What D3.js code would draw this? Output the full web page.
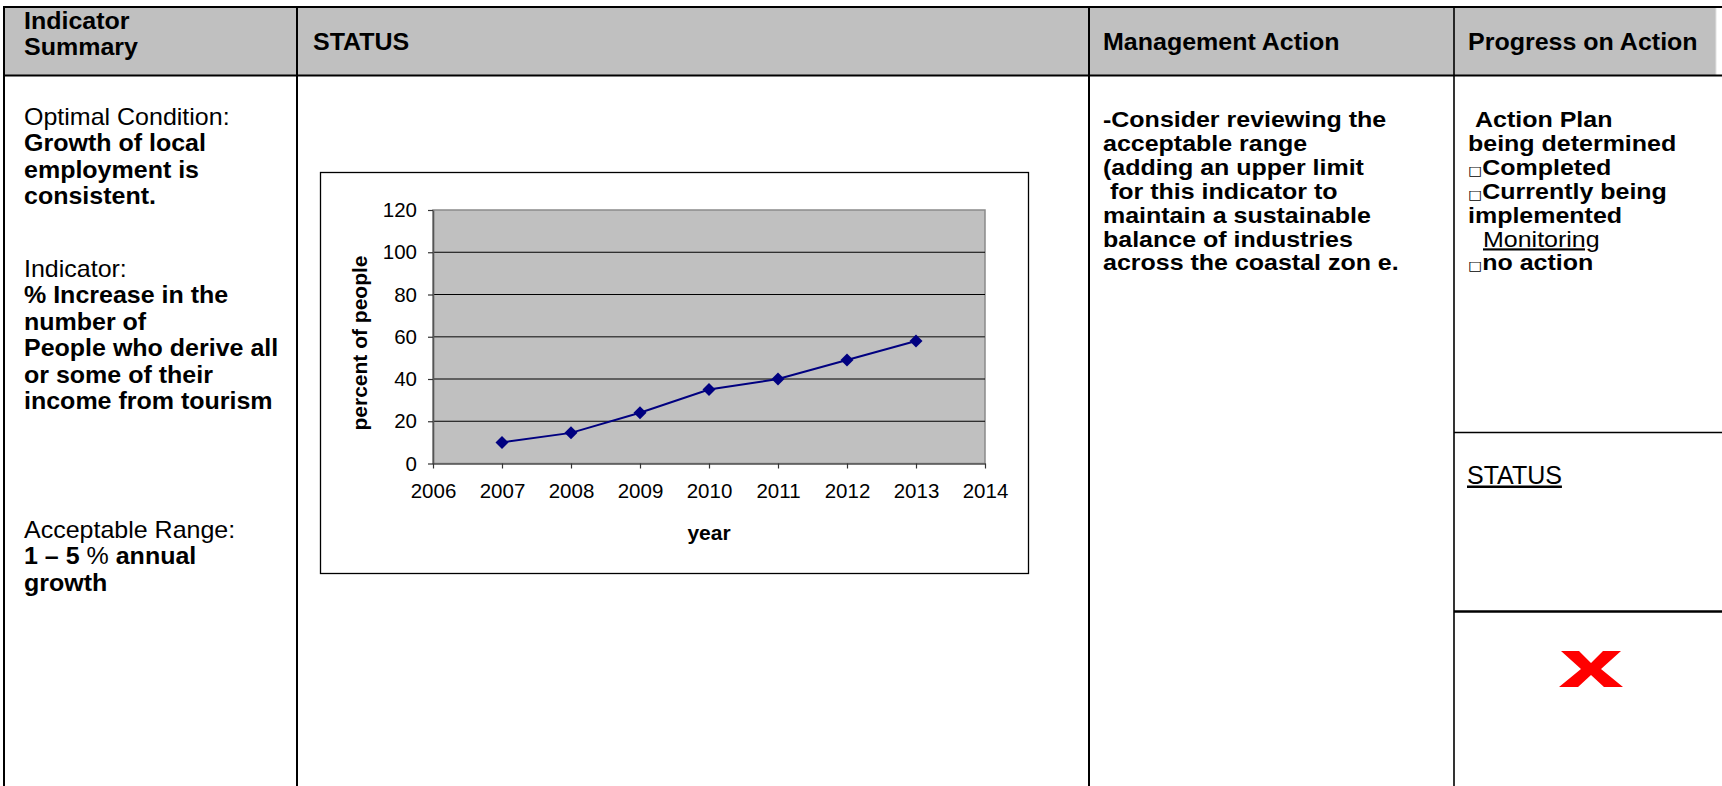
<!DOCTYPE html>
<html>
<head>
<meta charset="utf-8">
<script src="https://cdn.jsdelivr.net/npm/d3@7"></script>
<style>
  html, body { margin: 0; padding: 0; background: #fff; }
  svg { display: block; }
  text { font-family: "Liberation Sans", Arial, sans-serif; fill: #000; }
</style>
</head>
<body>
<svg id="page" width="1722" height="786"></svg>
<script>
// ---------------- data ----------------
const years = [2007, 2008, 2009, 2010, 2011, 2012, 2013];
const percentOfPeople = [10, 14.5, 24, 35, 40, 49, 58];
const xTickLabels = [2006, 2007, 2008, 2009, 2010, 2011, 2012, 2013, 2014];
const yTickLabels = [0, 20, 40, 60, 80, 100, 120];
const xAxisTitle = "year";
const yAxisTitle = "percent of people";

const headers = ["Indicator|Summary", "STATUS", "Management Action", "Progress on Action"];

// left column lines: segments of [text, bold]
const summaryLines = [
  [["Optimal Condition:", false]],
  [["Growth of local", true]],
  [["employment is", true]],
  [["consistent.", true]],
  [["Indicator:", false]],
  [["% Increase in the", true]],
  [["number of", true]],
  [["People who derive all", true]],
  [["or some of their", true]],
  [["income from tourism", true]],
  [["Acceptable Range:", false]],
  [["1 \u2013 5 ", true], ["% ", false], ["annual", true]],
  [["growth", true]]
];
const actionLines = [
  "-Consider reviewing the",
  "acceptable range",
  "(adding an upper limit",
  "\u00a0for this indicator to",
  "maintain a sustainable",
  "balance of industries",
  "across the coastal zon e."
];
const progressLines = [
  {t: "Action Plan", indent: 7, box: false, bold: true},
  {t: "being determined", indent: 0, box: false, bold: true},
  {t: "Completed", indent: 0, box: true, bold: true},
  {t: "Currently being", indent: 0, box: true, bold: true},
  {t: "implemented", indent: 0, box: false, bold: true},
  {t: "Monitoring", indent: 15, box: false, bold: false, underline: true},
  {t: "no action", indent: 0, box: true, bold: true}
];
const statusLabel = "STATUS";

// ---------------- layout ----------------
const svg = d3.select("#page");
const W = 1722, H = 786;
const colX = [4, 297, 1089, 1454];
const topY = 7, headBottom = 75.5;

function addText(x, y, fs, sx) {
  return svg.append("text")
    .attr("transform", `translate(${x},${y}) scale(${sx},1)`)
    .attr("font-size", fs);
}

svg.append("rect").attr("width", W).attr("height", H).attr("fill", "#fff");

// header background
svg.append("rect").attr("x", 4).attr("y", topY).attr("width", 1712).attr("height", headBottom - topY)
  .attr("fill", "#c0c0c0");
svg.append("line").attr("x1", 1716).attr("x2", 1716).attr("y1", topY).attr("y2", headBottom)
  .attr("stroke", "#e2e2e2").attr("stroke-width", 1);

// table lines
const lines = svg.append("g").attr("stroke", "#000");
lines.append("line").attr("x1", 3).attr("x2", W).attr("y1", topY).attr("y2", topY).attr("stroke-width", 2.2);
lines.append("line").attr("x1", 3).attr("x2", W).attr("y1", headBottom).attr("y2", headBottom).attr("stroke-width", 2.2);
colX.forEach((x, i) => {
  lines.append("line").attr("x1", x).attr("x2", x).attr("y1", topY - 1).attr("y2", H)
    .attr("stroke-width", i === 3 ? 1.6 : 2);
});
lines.append("line").attr("x1", 1454).attr("x2", W).attr("y1", 432.5).attr("y2", 432.5).attr("stroke-width", 1.6);
lines.append("line").attr("x1", 1454).attr("x2", W).attr("y1", 611.5).attr("y2", 611.5).attr("stroke-width", 2.6);

// header text
const hfs = 23, hsx = 25 / 23;
const h0 = headers[0].split("|");
addText(24, 29, hfs, hsx).attr("font-weight", "bold").text(h0[0]);
addText(24, 55, hfs, hsx).attr("font-weight", "bold").text(h0[1]);
addText(313, 49.5, hfs, hsx).attr("font-weight", "bold").text(headers[1]);
addText(1103, 49.5, hfs, hsx).attr("font-weight", "bold").text(headers[2]);
addText(1468, 49.5, hfs, hsx).attr("font-weight", "bold").text(headers[3]);

// left column
const leftBase = [124.5, 151, 177.5, 204, 276.5, 303, 329.5, 356, 382.5, 409, 537.5, 564, 590.5];
summaryLines.forEach((segs, i) => {
  const t = addText(24, leftBase[i], 23, 25 / 23);
  segs.forEach(s => t.append("tspan").attr("font-weight", s[1] ? "bold" : "normal").text(s[0]));
});

// management action column
const bfs = 21.5, bsx = 25 / 21.5;
actionLines.forEach((s, i) => {
  addText(1103, 127 + i * 23.9, bfs, bsx)
    .attr("font-weight", "bold").attr("xml:space", "preserve").text(s);
});

// progress column
progressLines.forEach((d, i) => {
  const t = addText(1468 + d.indent, 127 + i * 23.9, bfs, bsx);
  if (d.box) t.append("tspan").attr("font-size", 13).attr("font-family", "DejaVu Sans").text("\u25A1");
  t.append("tspan").attr("font-weight", d.bold ? "bold" : "normal")
    .attr("text-decoration", d.underline ? "underline" : null).text(d.t);
});

// STATUS underlined
svg.append("text").attr("x", 1467).attr("y", 483.5).attr("font-size", 25)
  .attr("text-decoration", "underline").text(statusLabel);

// red X
const xg = svg.append("g").attr("transform", "translate(1559,651)");
xg.append("path").attr("fill", "#ff0000")
  .attr("d", "M2,0 L20,0 L32,12 L44,0 L62,0 L42,18 L64,36 L45,36 L32,24 L19,36 L0,36 L22,18 Z");

// ---------------- chart ----------------
svg.append("rect").attr("x", 320.5).attr("y", 172.5).attr("width", 708).attr("height", 401)
  .attr("fill", "#fff").attr("stroke", "#000").attr("stroke-width", 1.3);

const plot = {l: 433, r: 985, t: 210, b: 463.5};
const x = d3.scaleLinear().domain([xTickLabels[0], xTickLabels[xTickLabels.length - 1]]).range([plot.l, plot.r]);
const y = d3.scaleLinear().domain([yTickLabels[0], yTickLabels[yTickLabels.length - 1]]).range([plot.b, plot.t]);

svg.append("rect").attr("x", plot.l).attr("y", plot.t).attr("width", plot.r - plot.l).attr("height", plot.b - plot.t)
  .attr("fill", "#c0c0c0").attr("stroke", "#8a8a8a").attr("stroke-width", 1.5);

// gridlines
svg.append("g").selectAll("line").data(yTickLabels.filter(v => v > 0 && v < 120)).join("line")
  .attr("x1", plot.l).attr("x2", plot.r).attr("y1", d => y(d)).attr("y2", d => y(d))
  .attr("stroke", d => d === 60 ? "#444" : "#000").attr("stroke-width", d => d === 60 ? 1.6 : 1.1);

const yAxis = svg.append("g").attr("transform", `translate(${plot.l},0)`)
  .call(d3.axisLeft(y).tickValues(yTickLabels).tickSize(5).tickPadding(11).tickSizeOuter(0));
const xAxis = svg.append("g").attr("transform", `translate(0,${plot.b})`)
  .call(d3.axisBottom(x).tickValues(xTickLabels).tickFormat(d3.format("d")).tickSize(5).tickPadding(15).tickSizeOuter(0));
[yAxis, xAxis].forEach(a => {
  a.select(".domain").attr("stroke", "#555").attr("stroke-width", 1.6);
  a.selectAll(".tick line").attr("stroke", "#333").attr("stroke-width", 1.2);
  a.selectAll(".tick text").attr("font-family", "Liberation Sans, Arial, sans-serif").attr("font-size", 20.5).attr("fill", "#000");
});

// axis titles
svg.append("text").attr("x", (plot.l + plot.r) / 2).attr("y", 540).attr("text-anchor", "middle")
  .attr("font-size", 21).attr("font-weight", "bold").text(xAxisTitle);
svg.append("text").attr("transform", "translate(367,343) rotate(-90)").attr("text-anchor", "middle")
  .attr("font-size", 21).attr("font-weight", "bold").text(yAxisTitle);

// series
const pts = years.map((yr, i) => [yr, percentOfPeople[i]]);
svg.append("path").datum(pts)
  .attr("d", d3.line().x(d => x(d[0])).y(d => y(d[1])))
  .attr("fill", "none").attr("stroke", "#000080").attr("stroke-width", 2);
svg.append("g").selectAll("path").data(pts).join("path")
  .attr("transform", d => `translate(${x(d[0])},${y(d[1])})`)
  .attr("d", "M0,-6.5 L6.5,0 L0,6.5 L-6.5,0 Z")
  .attr("fill", "#000080");
</script>
</body>
</html>
